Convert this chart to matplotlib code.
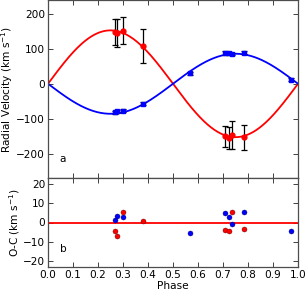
import numpy as np
import matplotlib
matplotlib.use("Agg")
import matplotlib.pyplot as plt

# Model parameters
K_red = 153.0
K_blue = 86.0

# Red (primary) RV data
red_phase = [0.268, 0.277, 0.301, 0.379, 0.707, 0.723, 0.736, 0.783]
red_rv = [148, 146, 152, 108, -151, -155, -147, -153]
red_err = [37, 40, 38, 48, 31, 32, 39, 36]
red_oc = [-4.5, -7.0, 5.7, 0.8, -4.0, -4.3, 5.7, -3.3]

# Blue (secondary) RV data
blue_phase = [0.268, 0.277, 0.301, 0.379, 0.568, 0.707, 0.723, 0.736, 0.783, 0.973]
blue_rv = [-82, -79, -77, -57, 30, 88, 87, 85, 89, 12]
blue_err = [5, 5, 5, 4, 5, 5, 5, 4, 5, 5]
blue_oc = [1.2, 3.4, 2.7, None, -5.7, 4.7, 2.6, -0.9, 5.3, -4.5]

xticks = [0.0, 0.1, 0.2, 0.3, 0.4, 0.5, 0.6, 0.7, 0.8, 0.9, 1.0]

fs = 7.6
fig = plt.figure(figsize=(3.07, 2.93), dpi=100)
W, H = 307, 293
axL, axR = 48, 298
ax1 = fig.add_axes([axL / W, (H - 178) / H, (axR - axL) / W, 178 / H])
ax2 = fig.add_axes([axL / W, (H - 267) / H, (axR - axL) / W, 89 / H])

ph = np.linspace(0, 1, 400)
ax1.plot(ph, K_red * np.sin(2 * np.pi * ph), color='red', lw=1.3, zorder=2)
ax1.plot(ph, -K_blue * np.sin(2 * np.pi * ph), color='blue', lw=1.3, zorder=2)
ax1.errorbar(red_phase, red_rv, yerr=red_err, fmt='o', color='red', ms=3.5,
             ecolor='black', elinewidth=0.9, capsize=2.5, capthick=0.9, zorder=3,
             mec='red')
ax1.errorbar(blue_phase, blue_rv, yerr=blue_err, fmt='s', color='blue', ms=3,
             ecolor='black', elinewidth=0.9, capsize=2.0, capthick=0.9, zorder=3,
             mec='blue')
ax1.set_xlim(0, 1)
ax1.set_ylim(-270, 240)
ax1.set_yticks([-200, -100, 0, 100, 200])
ax1.set_xticks(xticks)
ax1.set_xticklabels([])
ax1.set_ylabel('Radial Velocity (km s$^{-1}$)', fontsize=fs, labelpad=1)
ax1.text(0.06, -215, 'a', fontsize=fs, ha='center', va='center')

ax2.axhline(0, color='red', lw=1.3, zorder=2)
rp = [p for p, v in zip(red_phase, red_oc) if v is not None]
rv = [v for v in red_oc if v is not None]
bp = [p for p, v in zip(blue_phase, blue_oc) if v is not None]
bv = [v for v in blue_oc if v is not None]
ax2.plot(bp, bv, 'o', color='blue', ms=3.6, mec='#000060', mew=0.3, zorder=3)
ax2.plot(rp, rv, 'o', color='red', ms=3.6, mec='#600000', mew=0.3, zorder=3)
ax2.set_xlim(0, 1)
ax2.set_ylim(-23.1, 23.1)
ax2.set_yticks([-20, -10, 0, 10, 20])
ax2.set_xticks(xticks)
ax2.set_xticklabels(['%.1f' % t for t in xticks])
ax2.set_xlabel('Phase', fontsize=fs, labelpad=1)
ax2.set_ylabel('O-C (km s$^{-1}$)', fontsize=fs, labelpad=1)
ax2.text(0.06, -13.5, 'b', fontsize=fs, ha='center', va='center')

for ax in (ax1, ax2):
    ax.tick_params(direction='in', top=True, right=True, length=3.5, width=0.7,
                   labelsize=fs, pad=2, color='0.25')
    for s in ax.spines.values():
        s.set_color('0.3')
        s.set_linewidth(0.9)

fig.savefig('out.png', dpi=100)
